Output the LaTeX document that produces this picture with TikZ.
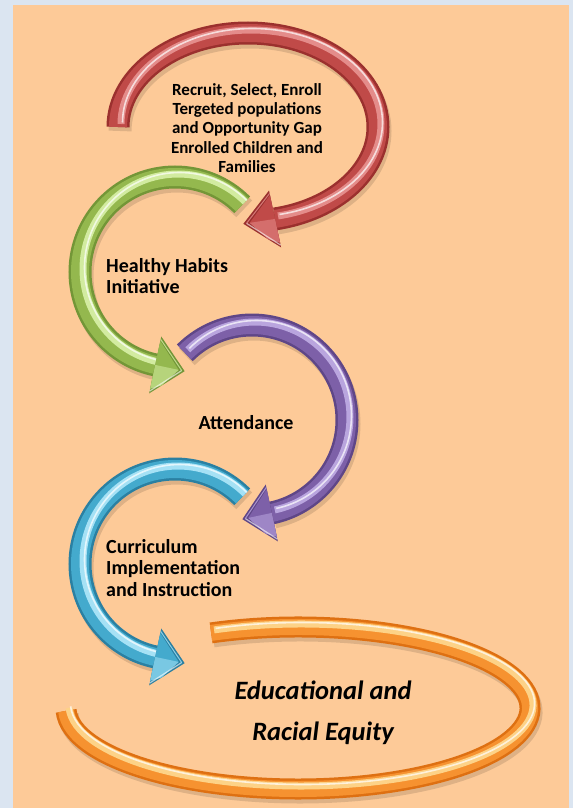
\documentclass[tikz,border=0pt]{standalone}
\usepackage{fontspec}
\setmainfont{Carlito}
\usetikzlibrary{calc}
\definecolor{bgblue}{RGB}{219,229,241}
\definecolor{peach}{RGB}{253,202,152}
\definecolor{redB}{RGB}{192,74,72}\definecolor{redD}{RGB}{155,48,46}\definecolor{redL}{RGB}{228,140,138}
\definecolor{grnB}{RGB}{148,184,78}\definecolor{grnD}{RGB}{115,150,55}\definecolor{grnL}{RGB}{210,235,160}
\definecolor{purB}{RGB}{125,96,168}\definecolor{purD}{RGB}{95,70,135}\definecolor{purL}{RGB}{185,165,222}
\definecolor{cyaB}{RGB}{68,170,205}\definecolor{cyaD}{RGB}{42,128,162}\definecolor{cyaL}{RGB}{165,225,245}
\definecolor{oraB}{RGB}{246,146,48}\definecolor{oraD}{RGB}{222,112,18}\definecolor{oraL}{RGB}{253,210,135}
\def\tw{23}
% tube: cx cy rx ry start end colour-prefix
\newcommand\tubearc[7]{%
  \pgfmathsetmacro\twa{\tw-5}%
  \begin{scope}[shift={(#1,#2)}]
    \draw[line width=\tw pt, black, opacity=0.12, shift={(2,4)}]
      (#5:{#3} and {#4}) arc[start angle=#5, end angle=#6, x radius=#3, y radius=#4];
    \draw[line width=\tw pt, #7D]
      (#5:{#3} and {#4}) arc[start angle=#5, end angle=#6, x radius=#3, y radius=#4];
    \draw[line width=\twa pt, #7B]
      (#5:{#3} and {#4}) arc[start angle=#5, end angle=#6, x radius=#3, y radius=#4];
    \draw[line width=7pt, #7L, shift={(3,-3)}]
      (#5:{#3} and {#4}) arc[start angle=#5, end angle=#6, x radius=#3, y radius=#4];
    \draw[line width=1.6pt, white, opacity=0.7, shift={(4.5,-4.5)}]
      (#5:{#3} and {#4}) arc[start angle=#5, end angle=#6, x radius=#3, y radius=#4];
  \end{scope}}
% arrow head: cx cy rx ry angle dir length colour-prefix
\newcommand\arrowhead[8]{%
  \pgfmathsetmacro\tx{-(#6)*(#3)*sin(#5)}%
  \pgfmathsetmacro\ty{(#6)*(#4)*cos(#5)}%
  \pgfmathsetmacro\tl{veclen(\tx,\ty)}%
  \pgfmathsetmacro\bx{(#1)+(#3)*cos(#5)}\pgfmathsetmacro\by{(#2)+(#4)*sin(#5)}%
  \pgfmathsetmacro\ox{(#1)+(#3+29)*cos(#5)}\pgfmathsetmacro\oy{(#2)+(#4+29)*sin(#5)}%
  \pgfmathsetmacro\ix{(#1)+(#3-29)*cos(#5)}\pgfmathsetmacro\iy{(#2)+(#4-29)*sin(#5)}%
  \pgfmathsetmacro\px{\bx+(#7)*\tx/\tl}\pgfmathsetmacro\py{\by+(#7)*\ty/\tl}%
  \coordinate (hO) at (\ox,\oy);
  \coordinate (hI) at (\ix,\iy);
  \coordinate (hB) at (\bx,\by);
  \coordinate (hT) at (\px,\py);
  \fill[black, opacity=0.12, shift={(2,4)}] (hO) -- (hT) -- (hI) -- cycle;
  \fill[#8D] (hO) -- (hT) -- (hI) -- cycle;
  \fill[#8B] ($(hO)!0.16!(hB)$) -- ($(hT)!0.2!(hB)$) -- ($(hI)!0.16!(hB)$) -- cycle;
  \fill[#8L!55!#8B] ($(hT)!0.2!(hB)$) -- (hB) -- ($(hO)!0.16!(hB)$) -- ($(hO)!0.35!(hT)$) -- cycle;
  \draw[white, opacity=0.6, line width=1.2pt] ($(hO)!0.08!(hB)$) -- ($(hT)!0.1!(hB)$);
  \draw[#8L, opacity=0.8, line width=1pt] ($(hI)!0.1!(hB)$) -- ($(hT)!0.1!(hB)$);
}
\begin{document}
\begin{tikzpicture}[x=1pt, y=-1pt,
  steptext/.style={font=\bfseries\fontsize{20}{21.5}\selectfont, align=left, inner sep=0pt, text=black},
  goaltext/.style={font=\bfseries\itshape\fontsize{26.5}{41}\selectfont, align=center, inner sep=0pt, text=black}]
  \fill[bgblue] (0,0) rectangle (573,808);
  \fill[peach] (13,5) rectangle (569,808);
  \useasboundingbox (0,0) rectangle (573,808);

  % orange loop
  \def\tw{21}
  \tubearc{298}{708}{232}{81}{-112}{178}{ora}
  \def\tw{23}
  % cyan
  \tubearc{175}{564}{95}{95}{-45}{-258}{cya}
  \arrowhead{175}{564}{95}{95}{-258}{-1}{30}{cya}
  % purple
  \tubearc{252}{420}{95}{95}{-135}{78}{pur}
  \arrowhead{252}{420}{95}{95}{78}{1}{30}{pur}
  % green
  \tubearc{175}{272}{95}{95}{-45}{-258}{grn}
  \arrowhead{175}{272}{95}{95}{-258}{-1}{30}{grn}
  % red
  \tubearc{248}{127}{130}{94}{180}{438}{red}
  \arrowhead{248}{127}{130}{94}{438}{1}{32}{red}

  \node[font=\bfseries\fontsize{17}{19.3}\selectfont, align=center, inner sep=0pt] (recruit) at (247,128)
    {Recruit, Select, Enroll\\Tergeted populations\\and Opportunity Gap\\Enrolled Children and\\Families};
  \node[steptext, anchor=west] (habits) at (106,276) {Healthy Habits\\Initiative};
  \node[steptext] (attend) at (246,423) {Attendance};
  \node[steptext, anchor=west] (curric) at (106,568) {Curriculum\\Implementation\\and Instruction};
  \node[goaltext] (equity) at (323,713) {Educational and\\Racial Equity};
\end{tikzpicture}
\end{document}
